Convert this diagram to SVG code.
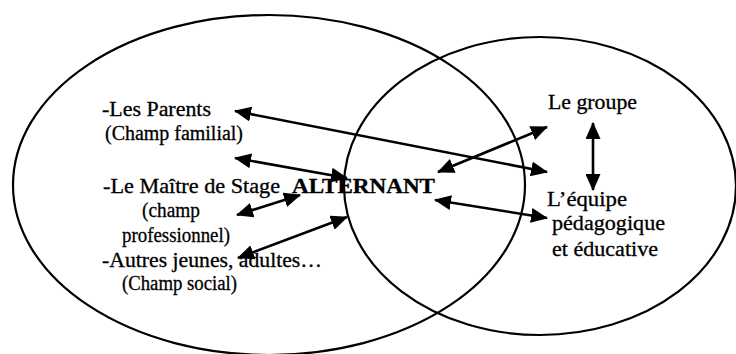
<svg xmlns="http://www.w3.org/2000/svg" width="736" height="354" viewBox="0 0 736 354">
<style>
.bg{fill:#fff}
.ring{fill:none;stroke:#000;stroke-width:2.2}
.lbl{font-family:"Liberation Serif","Times New Roman",serif;font-size:20px;fill:#000;stroke:#000;stroke-width:0.3}
.bold{font-weight:bold}
.arr{stroke:#000;stroke-width:2.6;fill:none;marker-start:url(#ah);marker-end:url(#ah)}
</style>
<defs>
<marker id="ah" markerUnits="userSpaceOnUse" markerWidth="17" markerHeight="15" viewBox="0 0 17 15" refX="16" refY="7.5" orient="auto-start-reverse">
<path d="M0,0 L17,7.5 L0,15 z" fill="#000"/>
</marker>
</defs>
<rect class="bg" x="0" y="0" width="736" height="354"/>
<g id="field-left"><ellipse class="ring" cx="269" cy="185" rx="256" ry="170"/></g>
<g id="field-right"><ellipse class="ring" cx="540" cy="186" rx="196" ry="149"/></g>
<g id="connectors">
<line class="arr" x1="235" y1="111" x2="547" y2="172"/>
<line class="arr" x1="235" y1="158" x2="347" y2="178"/>
<line class="arr" x1="237" y1="215" x2="300" y2="195"/>
<line class="arr" x1="238" y1="258" x2="347" y2="217"/>
<line class="arr" x1="438" y1="172" x2="547" y2="127"/>
<line class="arr" x1="435" y1="200" x2="547" y2="218"/>
<line class="arr" x1="593" y1="123" x2="593" y2="190"/>
</g>
<g id="parents">
<text class="lbl" x="102" y="116" textLength="109" lengthAdjust="spacingAndGlyphs">-Les Parents</text>
<text class="lbl" x="105" y="140" textLength="138" lengthAdjust="spacingAndGlyphs">(Champ familial)</text>
</g>
<g id="maitre">
<text class="lbl" x="103" y="193" textLength="177" lengthAdjust="spacingAndGlyphs">-Le Maître de Stage</text>
<text class="lbl" x="142" y="217" textLength="58" lengthAdjust="spacingAndGlyphs">(champ</text>
<text class="lbl" x="122" y="242" textLength="108" lengthAdjust="spacingAndGlyphs">professionnel)</text>
</g>
<g id="autres">
<text class="lbl" x="102" y="267" textLength="220" lengthAdjust="spacingAndGlyphs">-Autres jeunes, adultes…</text>
<text class="lbl" x="122" y="290" textLength="115" lengthAdjust="spacingAndGlyphs">(Champ social)</text>
</g>
<g id="alternant">
<text class="lbl bold" x="292" y="193" textLength="143" lengthAdjust="spacingAndGlyphs">ALTERNANT</text>
</g>
<g id="groupe">
<text class="lbl" x="548" y="109" textLength="89" lengthAdjust="spacingAndGlyphs">Le groupe</text>
</g>
<g id="equipe">
<text class="lbl" x="547" y="206" textLength="80" lengthAdjust="spacingAndGlyphs">L’équipe</text>
<text class="lbl" x="552" y="230" textLength="113" lengthAdjust="spacingAndGlyphs">pédagogique</text>
<text class="lbl" x="552" y="256" textLength="106" lengthAdjust="spacingAndGlyphs">et éducative</text>
</g>
</svg>
